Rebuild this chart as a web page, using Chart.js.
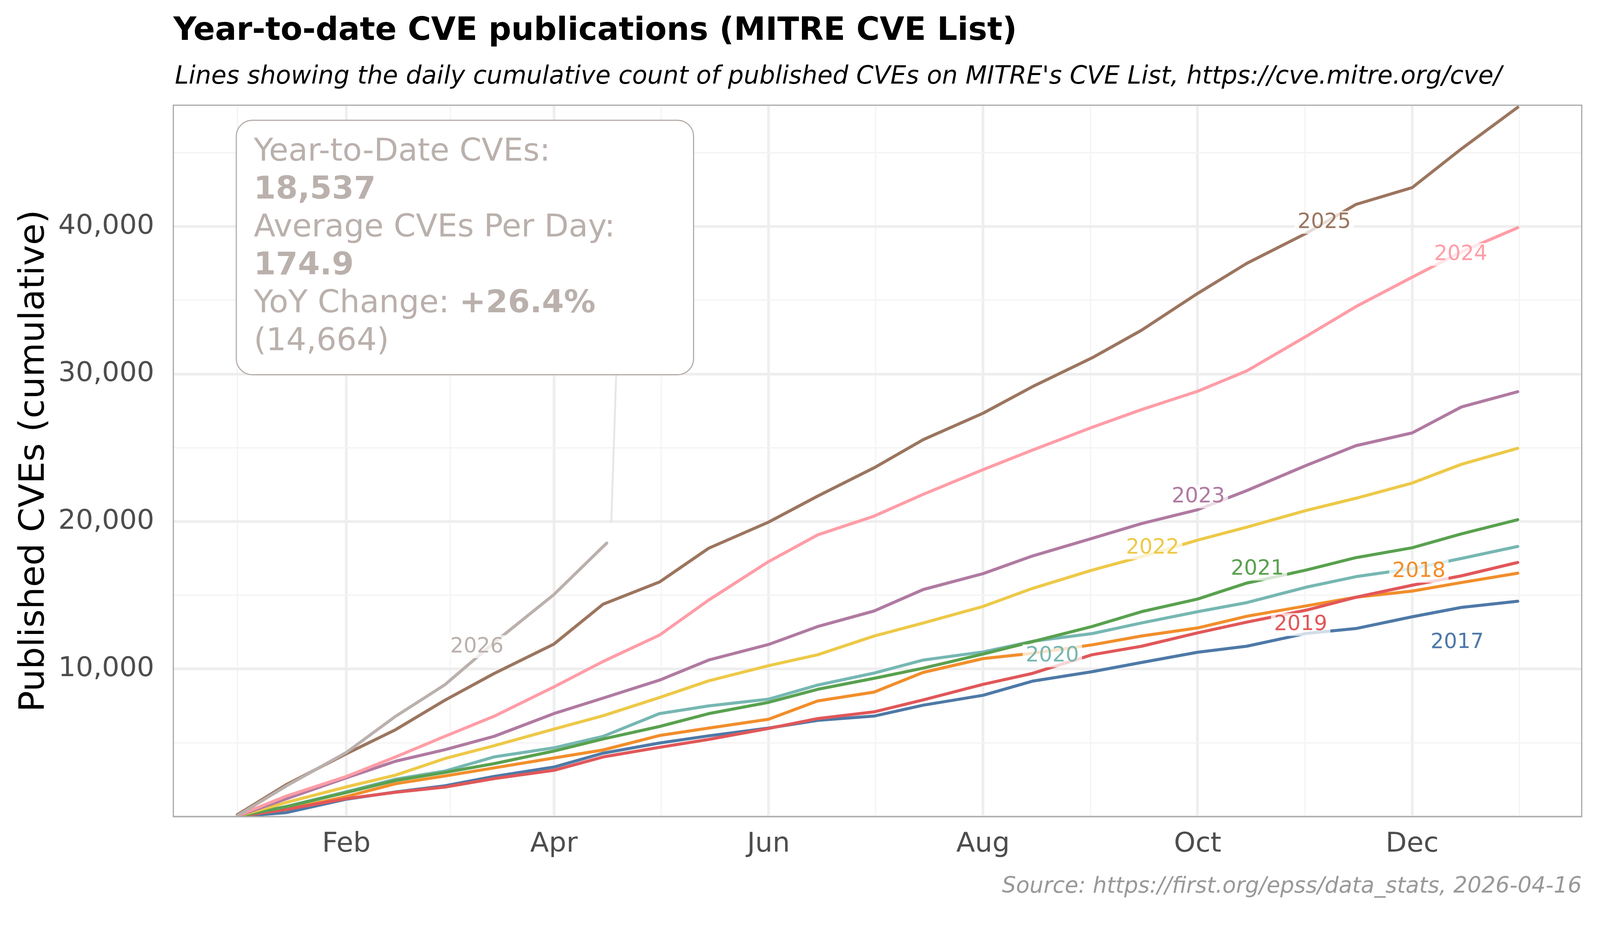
<!DOCTYPE html>
<html>
<head>
<meta charset="utf-8">
<title>Year-to-date CVE publications</title>
<script src="https://cdn.jsdelivr.net/npm/chart.js@4.4.1/dist/chart.umd.min.js"></script>
<style>
  html, body { margin: 0; padding: 0; background: #ffffff; overflow: hidden; }
  canvas { display: block; }
</style>
</head>
<body>
<canvas id="cves"></canvas>
<script>
// day of year for each reading (Jan 1 = 1)
var sampleDays = [1, 15, 32, 46, 60, 74, 91, 105, 121, 135, 152, 166, 182, 196, 213, 227, 244, 258, 274, 288, 305, 319, 335, 349, 365];

var cves2017 = [10, 274, 1181, 1671, 2088, 2722, 3356, 4299, 4987, 5474, 5999, 6526, 6813, 7554, 8222, 9178, 9824, 10445, 11138, 11551, 12421, 12747, 13545, 14180, 14597];
var cves2018 = [15, 492, 1362, 2232, 2758, 3302, 3973, 4517, 5496, 5999, 6597, 7840, 8438, 9776, 10709, 11067, 11640, 12238, 12787, 13581, 14289, 14869, 15286, 15866, 16500];
var cves2019 = [20, 492, 1217, 1652, 2000, 2577, 3139, 4045, 4697, 5235, 5976, 6646, 7098, 7911, 8963, 9704, 10971, 11544, 12453, 13183, 14000, 14869, 15684, 16319, 17226];
var cves2020 = [20, 691, 1688, 2540, 3084, 4045, 4661, 5441, 6982, 7505, 7959, 8915, 9728, 10613, 11163, 11879, 12405, 13122, 13887, 14506, 15558, 16264, 16808, 17498, 18313];
var cves2021 = [20, 673, 1634, 2450, 2993, 3591, 4443, 5260, 6107, 6980, 7744, 8629, 9370, 10063, 11019, 11855, 12883, 13887, 14747, 15830, 16718, 17552, 18223, 19165, 20126];
var cves2022 = [30, 963, 2014, 2812, 3935, 4806, 5931, 6837, 8070, 9202, 10230, 10971, 12238, 13122, 14245, 15464, 16707, 17615, 18738, 19619, 20761, 21577, 22610, 23879, 24967];
var cves2023 = [40, 1217, 2631, 3755, 4535, 5441, 6982, 8034, 9248, 10613, 11664, 12883, 13935, 15392, 16468, 17663, 18858, 19858, 20800, 22100, 23816, 25140, 26009, 27767, 28801];
var cves2024 = [60, 1398, 2721, 4045, 5441, 6800, 8795, 10518, 12300, 14676, 17281, 19097, 20364, 21846, 23518, 24833, 26386, 27582, 28830, 30215, 32572, 34566, 36561, 38283, 39915];
var cves2025 = [130, 2178, 4262, 5894, 7888, 9700, 11696, 14400, 15900, 18189, 19958, 21726, 23638, 25550, 27343, 29135, 31095, 32959, 35460, 37503, 39552, 41492, 42634, 45263, 48073];

// current year only runs to the snapshot date
var days2026 = [1, 15, 32, 46, 60, 74, 91, 106];
var cves2026 = [60, 2087, 4353, 6800, 8940, 11790, 15050, 18537];

var years = ['2017', '2018', '2019', '2020', '2021', '2022', '2023', '2024', '2025', '2026'];
var yearColors = ['#4e79a7', '#f28e2b', '#e15759', '#76b7b2', '#59a14f', '#edc948', '#b07aa1', '#ff9da7', '#9c755f', '#bab0ac'];

// where each year label sits (day, cumulative count)
var labelDays = [347.8, 336.9, 303.3, 232.7, 291, 261.2, 274.2, 348.8, 310, 69.1];
var labelValues = [11786, 16627, 13019, 10899, 16772, 18213, 21678, 38100, 40277, 11515];

// axis ticks
var monthTickDays = [32, 91, 152, 213, 274, 335];
var monthTickLabels = ['Feb', 'Apr', 'Jun', 'Aug', 'Oct', 'Dec'];
var minorMonthDays = [1, 61.5, 121.5, 182.5, 243.5, 304.5, 365.5];
var valueTicks = [0, 5000, 10000, 15000, 20000, 25000, 30000, 35000, 40000, 45000];
var valueTickLabels = ['', '', '10,000', '', '20,000', '', '30,000', '', '40,000', ''];

// summary box
var ytdTotal = '18,537';
var avgPerDay = '174.9';
var yoyChange = '+26.4%';
var lastYearSameDay = '(14,664)';

var FONT = '"DejaVu Sans", "Liberation Sans", sans-serif';

// the layout is worked out for a 4200 x 2400 page; k scales it to the real window
var W = window.innerWidth || 4200;
var H = window.innerHeight || 2400;
var k = Math.min(W / 4200, H / 2400);
function px(v) { return v * k; }

var series = [cves2017, cves2018, cves2019, cves2020, cves2021, cves2022, cves2023, cves2024, cves2025, cves2026];

var datasets = [];
for (var i = 0; i < years.length; i++) {
	var dayList = years[i] === '2026' ? days2026 : sampleDays;
	var pts = [];
	for (var j = 0; j < dayList.length; j++) {
		pts.push({ x: dayList[j], y: series[i][j] });
	}
	datasets.push({
		label: years[i],
		data: pts,
		borderColor: yearColors[i],
		backgroundColor: yearColors[i],
		borderWidth: px(8),
		borderJoinStyle: 'round',
		borderCapStyle: 'round',
		pointRadius: 0,
		tension: 0,
		fill: false,
		order: 2026 - parseInt(years[i], 10)
	});
}

var decor = {
	id: 'decor',
	beforeDraw: function(chart) {
		var ctx = chart.ctx;
		ctx.save();
		ctx.fillStyle = '#ffffff';
		ctx.fillRect(0, 0, chart.width, chart.height);
		ctx.restore();
	},
	afterDatasetsDraw: function(chart) {
		var ctx = chart.ctx;
		var xs = chart.scales.x;
		var ys = chart.scales.y;
		var area = chart.chartArea;

		// year labels sitting on the lines
		ctx.save();
		ctx.font = px(55) + 'px ' + FONT;
		ctx.textAlign = 'center';
		ctx.textBaseline = 'middle';
		for (var i = 0; i < years.length; i++) {
			var lx = xs.getPixelForValue(labelDays[i]);
			var ly = ys.getPixelForValue(labelValues[i]);
			var w = ctx.measureText(years[i]).width;
			ctx.fillStyle = 'rgba(255,255,255,0.75)';
			ctx.fillRect(lx - w / 2 - px(8), ly - px(30), w + px(16), px(60));
			ctx.fillStyle = yearColors[i];
			ctx.fillText(years[i], lx, ly);
		}
		ctx.restore();

		// connector from summary box to the current line
		ctx.save();
		ctx.strokeStyle = '#e6e6e6';
		ctx.lineWidth = px(5);
		ctx.beginPath();
		ctx.moveTo(xs.getPixelForValue(108.7), ys.getPixelForValue(29950));
		ctx.lineTo(xs.getPixelForValue(107.3), ys.getPixelForValue(19900));
		ctx.stroke();
		ctx.restore();

		// summary box
		var bl = xs.getPixelForValue(0.7);
		var br = xs.getPixelForValue(130.7);
		var bt = ys.getPixelForValue(47200);
		var bb = ys.getPixelForValue(29950);
		ctx.save();
		ctx.beginPath();
		ctx.roundRect(bl, bt, br - bl, bb - bt, px(42));
		ctx.fillStyle = '#ffffff';
		ctx.fill();
		ctx.strokeStyle = '#b5aca8';
		ctx.lineWidth = px(3);
		ctx.stroke();

		var reg = px(83) + 'px ' + FONT;
		var bold = 'bold ' + px(83) + 'px ' + FONT;
		var tx = bl + px(46);
		var base = bt + px(106);
		var step = px(99.5);
		ctx.fillStyle = '#bab0ac';
		ctx.textAlign = 'left';
		ctx.textBaseline = 'alphabetic';
		ctx.font = reg;  ctx.fillText('Year-to-Date CVEs:', tx, base);
		ctx.font = bold; ctx.fillText(ytdTotal, tx, base + step);
		ctx.font = reg;  ctx.fillText('Average CVEs Per Day:', tx, base + step * 2);
		ctx.font = bold; ctx.fillText(avgPerDay, tx, base + step * 3);
		ctx.font = reg;  ctx.fillText('YoY Change: ', tx, base + step * 4);
		var yw = ctx.measureText('YoY Change: ').width;
		ctx.font = bold; ctx.fillText(yoyChange, tx + yw, base + step * 4);
		ctx.font = reg;  ctx.fillText(lastYearSameDay, tx, base + step * 5);
		ctx.restore();

		// panel border
		ctx.save();
		ctx.strokeStyle = '#a6a6a6';
		ctx.lineWidth = px(3);
		ctx.strokeRect(area.left, area.top, area.right - area.left, area.bottom - area.top);
		ctx.restore();
	},
	afterDraw: function(chart) {
		var ctx = chart.ctx;
		var area = chart.chartArea;
		ctx.save();
		ctx.fillStyle = '#000000';
		ctx.textAlign = 'left';
		ctx.textBaseline = 'alphabetic';
		ctx.font = 'bold ' + px(83.5) + 'px ' + FONT;
		ctx.fillText('Year-to-date CVE publications (MITRE CVE List)', area.left, px(105));
		ctx.font = 'italic ' + px(65) + 'px ' + FONT;
		ctx.fillText("Lines showing the daily cumulative count of published CVEs on MITRE's CVE List, https://cve.mitre.org/cve/", area.left + px(4), px(219));

		ctx.fillStyle = '#999999';
		ctx.textAlign = 'right';
		ctx.font = 'italic ' + px(58) + 'px ' + FONT;
		ctx.fillText('Source: https://first.org/epss/data_stats, 2026-04-16', area.right, px(2342));

		ctx.translate(px(115), (area.top + area.bottom) / 2);
		ctx.rotate(-Math.PI / 2);
		ctx.textAlign = 'center';
		ctx.fillStyle = '#000000';
		ctx.font = px(92) + 'px ' + FONT;
		ctx.fillText('Published CVEs (cumulative)', 0, 0);
		ctx.restore();
	}
};

function isMonthMajor(v) {
	return monthTickDays.indexOf(v) >= 0;
}

var canvas = document.getElementById('cves');
canvas.width = Math.round(4200 * k);
canvas.height = Math.round(2400 * k);

var chart = new Chart(canvas.getContext('2d'), {
	type: 'line',
	data: { datasets: datasets },
	plugins: [decor],
	options: {
		responsive: false,
		animation: false,
		devicePixelRatio: window.devicePixelRatio || 1,
		layout: { padding: { left: 0, top: px(276), right: px(48), bottom: 0 } },
		plugins: {
			legend: { display: false },
			tooltip: { enabled: false },
			title: { display: false }
		},
		scales: {
			x: {
				type: 'linear',
				min: -17.2,
				max: 383.2,
				afterBuildTicks: function(scale) {
					var all = minorMonthDays.concat(monthTickDays).sort(function(a, b) { return a - b; });
					scale.ticks = all.map(function(v) { return { value: v }; });
				},
				afterFit: function(scale) { scale.height = px(258); },
				border: { display: false },
				grid: {
					drawTicks: false,
					color: function(c) { return c.tick && isMonthMajor(c.tick.value) ? '#eeeeee' : '#f4f4f4'; },
					lineWidth: function(c) { return c.tick && isMonthMajor(c.tick.value) ? px(7) : px(3.5); }
				},
				ticks: {
					autoSkip: false,
					maxRotation: 0,
					padding: px(30),
					color: '#4d4d4d',
					font: { family: FONT, size: px(72) },
					callback: function(value) {
						var n = monthTickDays.indexOf(value);
						return n >= 0 ? monthTickLabels[n] : '';
					}
				}
			},
			y: {
				type: 'linear',
				min: 0,
				max: 48220,
				afterBuildTicks: function(scale) {
					scale.ticks = valueTicks.map(function(v) { return { value: v }; });
				},
				afterFit: function(scale) { scale.width = px(455); },
				border: { display: false },
				grid: {
					drawTicks: false,
					color: function(c) { return c.tick && c.tick.value % 10000 === 0 ? '#eeeeee' : '#f4f4f4'; },
					lineWidth: function(c) { return c.tick && c.tick.value % 10000 === 0 ? px(7) : px(3.5); }
				},
				ticks: {
					padding: px(50),
					color: '#4d4d4d',
					font: { family: FONT, size: px(72) },
					callback: function(value) {
						var n = valueTicks.indexOf(value);
						return n >= 0 ? valueTickLabels[n] : '';
					}
				}
			}
		}
	}
});
</script>
</body>
</html>
